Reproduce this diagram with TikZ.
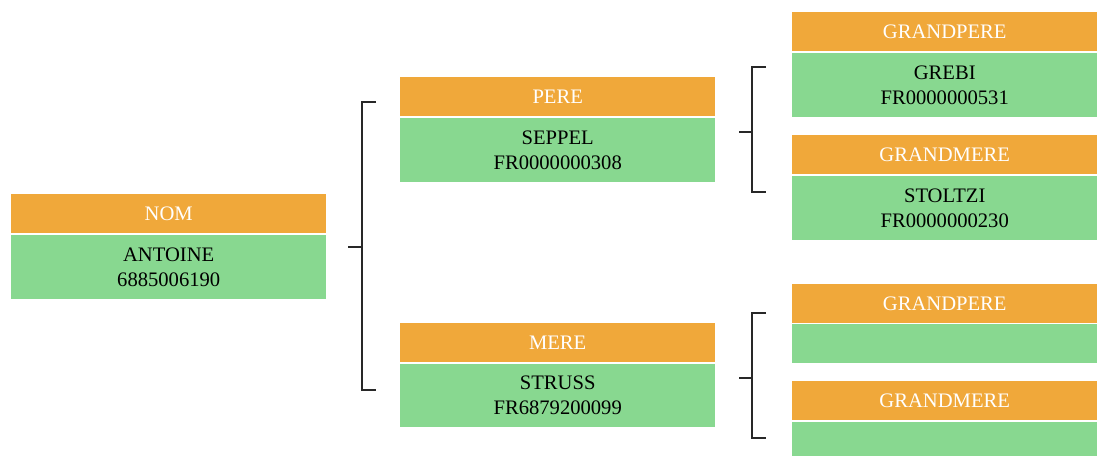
\documentclass[tikz,border=0pt]{standalone}
\usepackage{fontspec}
\setmainfont{Liberation Serif}
\definecolor{hdrc}{RGB}{240,168,58}
\definecolor{bodyc}{RGB}{136,216,144}
\definecolor{brk}{RGB}{40,40,40}
\begin{document}
\begin{tikzpicture}[x=1pt,y=-1pt,
  hdr/.style={fill=hdrc,text=white,inner sep=0pt,anchor=north west,minimum height=39pt,font=\fontsize{20.6}{25}\selectfont},
  bodybox/.style={fill=bodyc,text=black,inner sep=0pt,anchor=north west,align=center,font=\fontsize{20.6}{25}\selectfont},
  wide/.style={minimum width=315pt,text width=315pt,align=center},
  wider/.style={minimum width=305pt,text width=305pt,align=center},
  brace/.style={draw=brk,line width=1.4pt}]
\useasboundingbox (0,0) rectangle (1097,455);
\clip (0,0) rectangle (1097,455);
% level 0
\node[hdr,wide] (nomh) at (11,194) {NOM};
\node[bodybox,wide,minimum height=64pt] (nomb) at (11,235) {ANTOINE\\6885006190};
% level 1
\node[hdr,wide] (pereh) at (400,77) {PERE};
\node[bodybox,wide,minimum height=64pt] (pereb) at (400,118) {SEPPEL\\FR0000000308};
\node[hdr,wide] (mereh) at (400,323) {MERE};
\node[bodybox,wide,minimum height=63pt] (mereb) at (400,364) {STRUSS\\FR6879200099};
% level 2
\node[hdr,wider] (gp1h) at (792,12) {GRANDPERE};
\node[bodybox,wider,minimum height=64pt] (gp1b) at (792,53) {GREBI\\FR0000000531};
\node[hdr,wider] (gm1h) at (792,135) {GRANDMERE};
\node[bodybox,wider,minimum height=64pt] (gm1b) at (792,176) {STOLTZI\\FR0000000230};
\node[hdr,wider] (gp2h) at (792,284) {GRANDPERE};
\node[bodybox,wider,minimum height=39pt] (gp2b) at (792,324) {};
\node[hdr,wider] (gm2h) at (792,381) {GRANDMERE};
\node[bodybox,wider,minimum height=45pt] (gm2b) at (792,422) {};
% brackets
\coordinate (b1s) at (348,247);
\coordinate (b1m) at (362,247);
\coordinate (b1t) at (362,102);
\coordinate (b1b) at (362,390);
\coordinate (b1te) at (376,102);
\coordinate (b1be) at (376,390);
\draw[brace] (b1s) -- (b1m);
\draw[brace] (b1te) -- (b1t) -- (b1b) -- (b1be);
\coordinate (b2s) at (739,132);
\coordinate (b2m) at (752,132);
\coordinate (b2t) at (752,67);
\coordinate (b2b) at (752,192);
\coordinate (b2te) at (766,67);
\coordinate (b2be) at (766,192);
\draw[brace] (b2s) -- (b2m);
\draw[brace] (b2te) -- (b2t) -- (b2b) -- (b2be);
\coordinate (b3s) at (739,378);
\coordinate (b3m) at (752,378);
\coordinate (b3t) at (752,313);
\coordinate (b3b) at (752,438);
\coordinate (b3te) at (766,313);
\coordinate (b3be) at (766,438);
\draw[brace] (b3s) -- (b3m);
\draw[brace] (b3te) -- (b3t) -- (b3b) -- (b3be);
\end{tikzpicture}
\end{document}
